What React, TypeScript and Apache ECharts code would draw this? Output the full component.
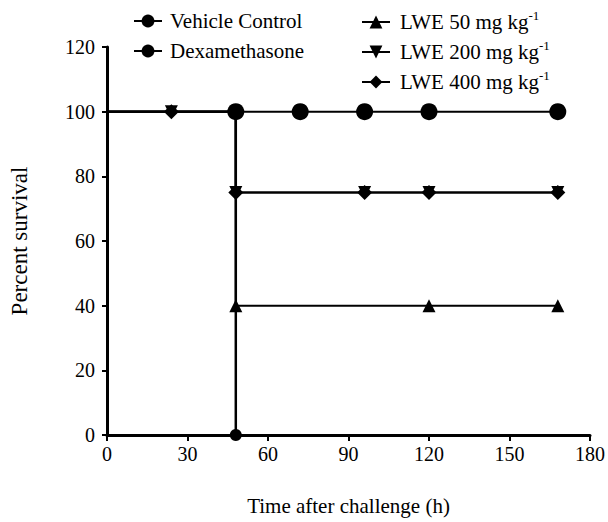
import React, { useEffect, useRef } from "react";
import * as echarts from "echarts";

const FONT = "Liberation Serif";

const vehicleTimes = [0, 48];
const vehicleValues = [100, 0];
const vehicleMarked = [false, true];

const dexaTimes = [0, 48, 72, 96, 120, 168];
const dexaValues = [100, 100, 100, 100, 100, 100];
const dexaMarked = [false, true, true, true, true, true];

const lwe50Times = [0, 48, 120, 168];
const lwe50Values = [100, 40, 40, 40];
const lwe50Marked = [false, true, true, true];

const lwe200Times = [0, 24, 48, 96, 120, 168];
const lwe200Values = [100, 100, 75, 75, 75, 75];
const lwe200Marked = [false, true, true, true, true, true];

const lwe400Times = [0, 24, 48, 96, 120, 168];
const lwe400Values = [100, 100, 75, 75, 75, 75];
const lwe400Marked = [false, true, true, true, true, true];

const seriesNames = [
  "Vehicle Control",
  "Dexamethasone",
  "LWE 50 mg kg",
  "LWE 200 mg kg",
  "LWE 400 mg kg",
];

function build(times: number[], values: number[], marked: boolean[]) {
  return times.map((t, i) =>
    marked[i] ? [t, values[i]] : { value: [t, values[i]], symbol: "none" }
  );
}

export default function App() {
  const ref = useRef<HTMLDivElement>(null);
  useEffect(() => {
    if (!ref.current) return;
    const chart = echarts.init(ref.current, null, { renderer: "svg" });
    const lineStyle = { color: "#000", width: 2 };
    const common = {
      type: "line" as const,
      step: "end" as const,
      lineStyle,
      itemStyle: { color: "#000" },
      showAllSymbol: true,
    };
    const richText = {
      a: { fontSize: 21, fontFamily: FONT, color: "#000", lineHeight: 26 },
      s: { fontSize: 13, fontFamily: FONT, color: "#000", verticalAlign: "top" as const, lineHeight: 26 },
    };
    chart.setOption({
      animation: false,
      grid: { left: 107, right: 14, top: 47, bottom: 87, containLabel: false },
      legend: [
        {
          data: [seriesNames[0], seriesNames[1]],
          orient: "vertical",
          left: 128,
          top: 3,
          itemWidth: 28,
          itemHeight: 16,
          itemGap: 4,
          textStyle: { fontSize: 21, fontFamily: FONT, color: "#000", lineHeight: 26, padding: [0, 0, 0, 3] },
        },
        {
          data: [seriesNames[2], seriesNames[3], seriesNames[4]],
          orient: "vertical",
          left: 356,
          top: 4,
          itemWidth: 28,
          itemHeight: 16,
          itemGap: 4,
          formatter: (n: string) => `{a|${n}}{s|-1}`,
          textStyle: { fontSize: 21, fontFamily: FONT, color: "#000", lineHeight: 26, padding: [0, 0, 0, 5], rich: richText },
        },
      ],
      xAxis: {
        type: "value",
        min: 0,
        max: 180,
        interval: 30,
        name: "Time after challenge (h)",
        nameLocation: "middle",
        nameGap: 60,
        nameTextStyle: { fontSize: 21, fontFamily: FONT, color: "#000" },
        axisLine: { show: true, lineStyle: { color: "#000", width: 3 } },
        axisTick: { show: true, length: 6, lineStyle: { color: "#000", width: 2 } },
        axisLabel: { fontSize: 20, fontFamily: FONT, color: "#000", margin: 9 },
        splitLine: { show: false },
      },
      yAxis: {
        type: "value",
        min: 0,
        max: 120,
        interval: 20,
        name: "Percent survival",
        nameLocation: "middle",
        nameGap: 76,
        nameTextStyle: { fontSize: 23, fontFamily: FONT, color: "#000" },
        axisLine: { show: true, lineStyle: { color: "#000", width: 3 } },
        axisTick: { show: true, length: 5, lineStyle: { color: "#000", width: 2 } },
        axisLabel: { fontSize: 20, fontFamily: FONT, color: "#000", margin: 12 },
        splitLine: { show: false },
      },
      series: [
        {
          ...common,
          name: seriesNames[0],
          symbol: "circle",
          symbolSize: 12,
          data: build(vehicleTimes, vehicleValues, vehicleMarked),
          lineStyle: { color: "#000", width: 2.5 },
          z: 2,
        },
        {
          ...common,
          name: seriesNames[1],
          symbol: "circle",
          symbolSize: 17,
          data: build(dexaTimes, dexaValues, dexaMarked),
          z: 3,
        },
        {
          ...common,
          name: seriesNames[2],
          symbol: "triangle",
          symbolSize: 13,
          data: build(lwe50Times, lwe50Values, lwe50Marked),
          z: 2,
        },
        {
          ...common,
          name: seriesNames[3],
          symbol: "triangle",
          symbolRotate: 180,
          symbolSize: 13,
          data: build(lwe200Times, lwe200Values, lwe200Marked),
          z: 2,
        },
        {
          ...common,
          name: seriesNames[4],
          symbol: "diamond",
          symbolSize: 15,
          data: build(lwe400Times, lwe400Values, lwe400Marked),
          z: 2,
        },
      ],
    });
    return () => chart.dispose();
  }, []);
  return (
    <div
      ref={ref}
      style={{ position: "absolute", left: 0, top: 0, width: 608, height: 522, background: "#fff" }}
    />
  );
}
